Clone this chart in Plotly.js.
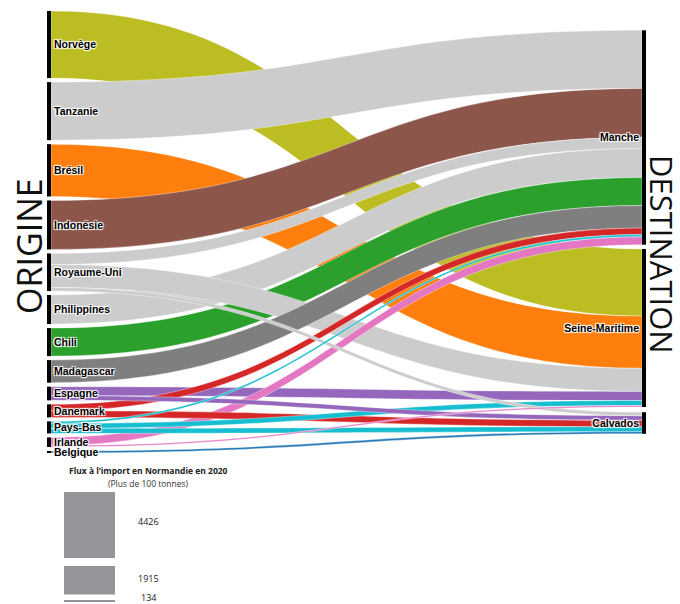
<!DOCTYPE html>
<html>
<head>
<meta charset="utf-8">
<script src="https://cdn.plot.ly/plotly-3.0.1.min.js"></script>
<style>html,body{margin:0;padding:0;background:#fff;}#chart{width:680px;height:604px;}</style>
</head>
<body>
<div id="chart"></div>
<script>
// ---- data ----
var origins = ['Norvège','Tanzanie','Brésil','Indonésie','Royaume-Uni','Philippines','Chili','Madagascar','Espagne','Danemark','Pays-Bas','Irlande','Belgique'];
var destinations = ['Manche','Seine-Maritime','Calvados'];
// tonnes imported from each origin into each destination
var toManche        = [0,    3830, 0,    3230, 730,  1915, 1850, 1490, 0,   430, 134, 530, 0];
var toSeineMaritime = [4426, 0,    3450, 0,    1520, 0,    0,    0,    600, 0,   330, 100, 0];
var toCalvados      = [0,    0,    0,    0,    230,  0,    0,    0,    300, 430, 330, 0,   134];
var originColors = ['#bcbd22','#cccccc','#ff7f0e','#8c564b','#cccccc','#cccccc','#2ca02c','#7f7f7f','#9467bd','#d62728','#17becf','#e377c2','#1f77b4'];
var legendValues = [4426, 1915, 134];
var legendTitle = 'Flux à l’import en Normandie en 2020';
var legendSubtitle = '(Plus de 100 tonnes)';

// ---- build sankey ----
var W = 680, H = 604;
var labels = origins.concat(destinations);
var perDest = [toManche, toSeineMaritime, toCalvados];
var links = [];
var originTotals = [];
for (var i = 0; i < origins.length; i++) {
  var t = 0;
  for (var d = 0; d < destinations.length; d++) {
    var v = perDest[d][i];
    t += v;
    if (v > 0) links.push({ s: i, t: origins.length + d, v: v, c: originColors[i] });
  }
  originTotals.push(t);
}
// draw larger flows first so smaller ones lie on top
links.sort(function(a, b){ return b.v - a.v; });
var src = links.map(function(l){ return l.s; });
var tgt = links.map(function(l){ return l.t; });
var val = links.map(function(l){ return l.v; });
var col = links.map(function(l){ return l.c; });

// node positions
var plotTop = 11, plotBottom = 453, plotLeft = 47, plotRight = 646, thick = 4, pad = 4;
var plotH = plotBottom - plotTop, plotW = plotRight - plotLeft;
var sumLeft = originTotals.reduce(function(a, b){ return a + b; }, 0);
var ky = (plotH - (origins.length - 1) * pad) / sumLeft;
var nx = [], ny = [];
var yCursor = 0;
for (var i = 0; i < origins.length; i++) {
  var hgt = originTotals[i] * ky;
  nx.push((thick / 2) / plotW);
  ny.push((yCursor + hgt / 2) / plotH);
  yCursor += hgt + pad;
}
var destCenters = [137.5, 328, 423];
for (var d = 0; d < destinations.length; d++) {
  nx.push(1 - (thick / 2) / plotW);
  ny.push((destCenters[d] - plotTop) / plotH);
}

var trace = {
  type: 'sankey',
  arrangement: 'snap',
  domain: { x: [plotLeft / W, plotRight / W], y: [1 - plotBottom / H, 1 - plotTop / H] },
  node: {
    label: labels,
    color: labels.map(function(){ return '#000'; }),
    thickness: thick,
    pad: pad,
    line: { width: 0 },
    x: nx, y: ny
  },
  link: {
    source: src, target: tgt, value: val, color: col,
    line: { color: 'rgba(255,255,255,0.9)', width: 0.4 }
  },
  textfont: { family: 'Liberation Sans, Arial, sans-serif', size: 10.5, color: '#000', weight: 'bold' }
};

// ---- legend shapes ----
var pxPerTonne = 66 / legendValues[0];
var boxTops = [492, 566, 600];
var shapes = [], annotations = [];
for (var k = 0; k < legendValues.length; k++) {
  var h = legendValues[k] * pxPerTonne;
  shapes.push({ type: 'rect', xref: 'paper', yref: 'paper',
    x0: 64 / W, x1: 115 / W, y0: 1 - (boxTops[k] + h) / H, y1: 1 - boxTops[k] / H,
    fillcolor: '#939598', line: { width: 0 } });
}
var labelYs = [521, 578, 597];
for (var k = 0; k < legendValues.length; k++) {
  annotations.push({ xref: 'paper', yref: 'paper', x: 148 / W, y: 1 - labelYs[k] / H,
    text: String(legendValues[k]), showarrow: false, xanchor: 'center', yanchor: 'middle',
    font: { family: 'Open Sans, sans-serif', size: 9, color: '#222' } });
}
annotations.push({ xref: 'paper', yref: 'paper', x: 148 / W, y: 1 - 470 / H, text: legendTitle,
  showarrow: false, xanchor: 'center', yanchor: 'middle',
  font: { family: 'Open Sans, sans-serif', size: 8.5, color: '#222', weight: 'bold' } });
annotations.push({ xref: 'paper', yref: 'paper', x: 148 / W, y: 1 - 483 / H, text: legendSubtitle,
  showarrow: false, xanchor: 'center', yanchor: 'middle',
  font: { family: 'Open Sans, sans-serif', size: 8.5, color: '#333' } });
annotations.push({ xref: 'paper', yref: 'paper', x: 29 / W, y: 1 - 246 / H, text: 'ORIGINE',
  showarrow: false, textangle: -90, xanchor: 'center', yanchor: 'middle',
  font: { family: 'Open Sans, sans-serif', size: 34, color: '#111' } });
annotations.push({ xref: 'paper', yref: 'paper', x: 662 / W, y: 1 - 254 / H, text: 'DESTINATION',
  showarrow: false, textangle: 90, xanchor: 'center', yanchor: 'middle',
  font: { family: 'Open Sans, sans-serif', size: 31, color: '#111' } });

var layout = {
  width: W, height: H,
  margin: { l: 0, r: 0, t: 0, b: 0 },
  paper_bgcolor: '#fff',
  showlegend: false,
  shapes: shapes,
  annotations: annotations
};
Plotly.newPlot('chart', [trace], layout, { displayModeBar: false, staticPlot: true });
</script>
</body>
</html>
